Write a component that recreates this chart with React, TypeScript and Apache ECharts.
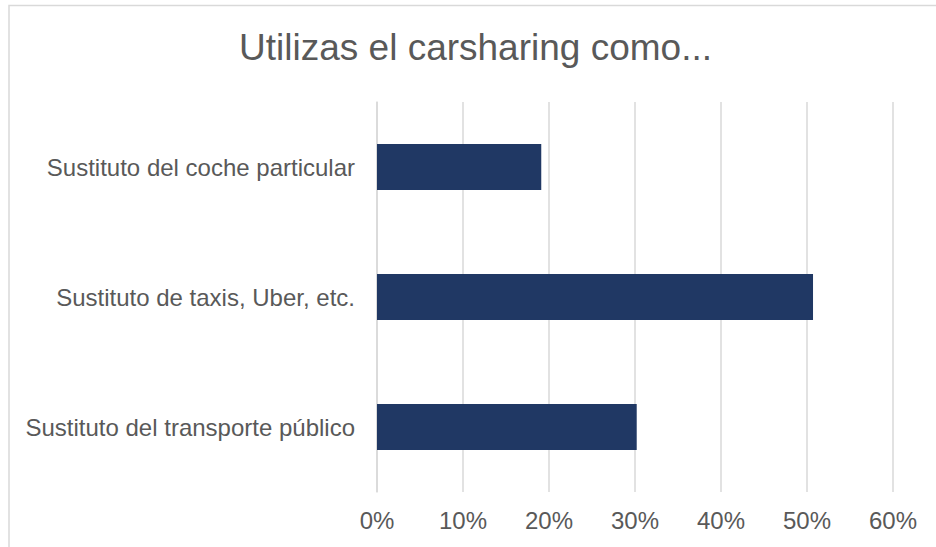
import React, { useEffect, useRef } from "react";
import * as echarts from "echarts";

const titleText = "Utilizas el carsharing como...";
const categories = [
  "Sustituto del coche particular",
  "Sustituto de taxis, Uber, etc.",
  "Sustituto del transporte público",
];
const values = [19.1, 50.7, 30.2];
const axisMin = 0;
const axisMax = 60;
const axisInterval = 10;

const FONT = "'Liberation Sans', Arial, sans-serif";

export default function App() {
  const ref = useRef<HTMLDivElement>(null);
  useEffect(() => {
    if (!ref.current) return;
    const chart = echarts.init(ref.current, undefined, { renderer: "svg" });
    chart.setOption({
      animation: false,
      backgroundColor: "#ffffff",
      textStyle: { fontFamily: FONT },
      graphic: [
        {
          type: "rect",
          shape: { x: 9, y: 5.5, width: 1000, height: 1000 },
          style: { fill: "none", stroke: "#d9d9d9", lineWidth: 1.5 },
          silent: true,
          z: -1,
        },
        {
          type: "text",
          x: 475.5,
          y: 47,
          style: {
            text: titleText,
            fontSize: 37,
            fill: "#595959",
            fontFamily: FONT,
            textAlign: "center",
            textVerticalAlign: "middle",
          },
        },
      ],
      grid: { left: 377, right: 43, top: 102, bottom: 55, containLabel: false },
      xAxis: {
        type: "value",
        min: axisMin,
        max: axisMax,
        interval: axisInterval,
        axisLine: { show: false },
        axisTick: { show: false },
        splitLine: { show: true, lineStyle: { color: "#d9d9d9", width: 1.5 } },
        axisLabel: {
          formatter: "{value}%",
          fontSize: 24,
          color: "#595959",
          fontFamily: FONT,
          margin: 16,
        },
      },
      yAxis: {
        type: "category",
        data: categories,
        inverse: true,
        axisLine: { show: true, lineStyle: { color: "#d9d9d9", width: 1.5 } },
        axisTick: { show: false },
        axisLabel: { fontSize: 24, color: "#595959", fontFamily: FONT, margin: 22 },
      },
      series: [
        {
          type: "bar",
          data: values,
          barWidth: 46,
          itemStyle: { color: "#203864" },
        },
      ],
    });
    return () => chart.dispose();
  }, []);
  return (
    <div
      ref={ref}
      style={{ position: "absolute", left: 0, top: 0, width: 936, height: 547 }}
    />
  );
}
